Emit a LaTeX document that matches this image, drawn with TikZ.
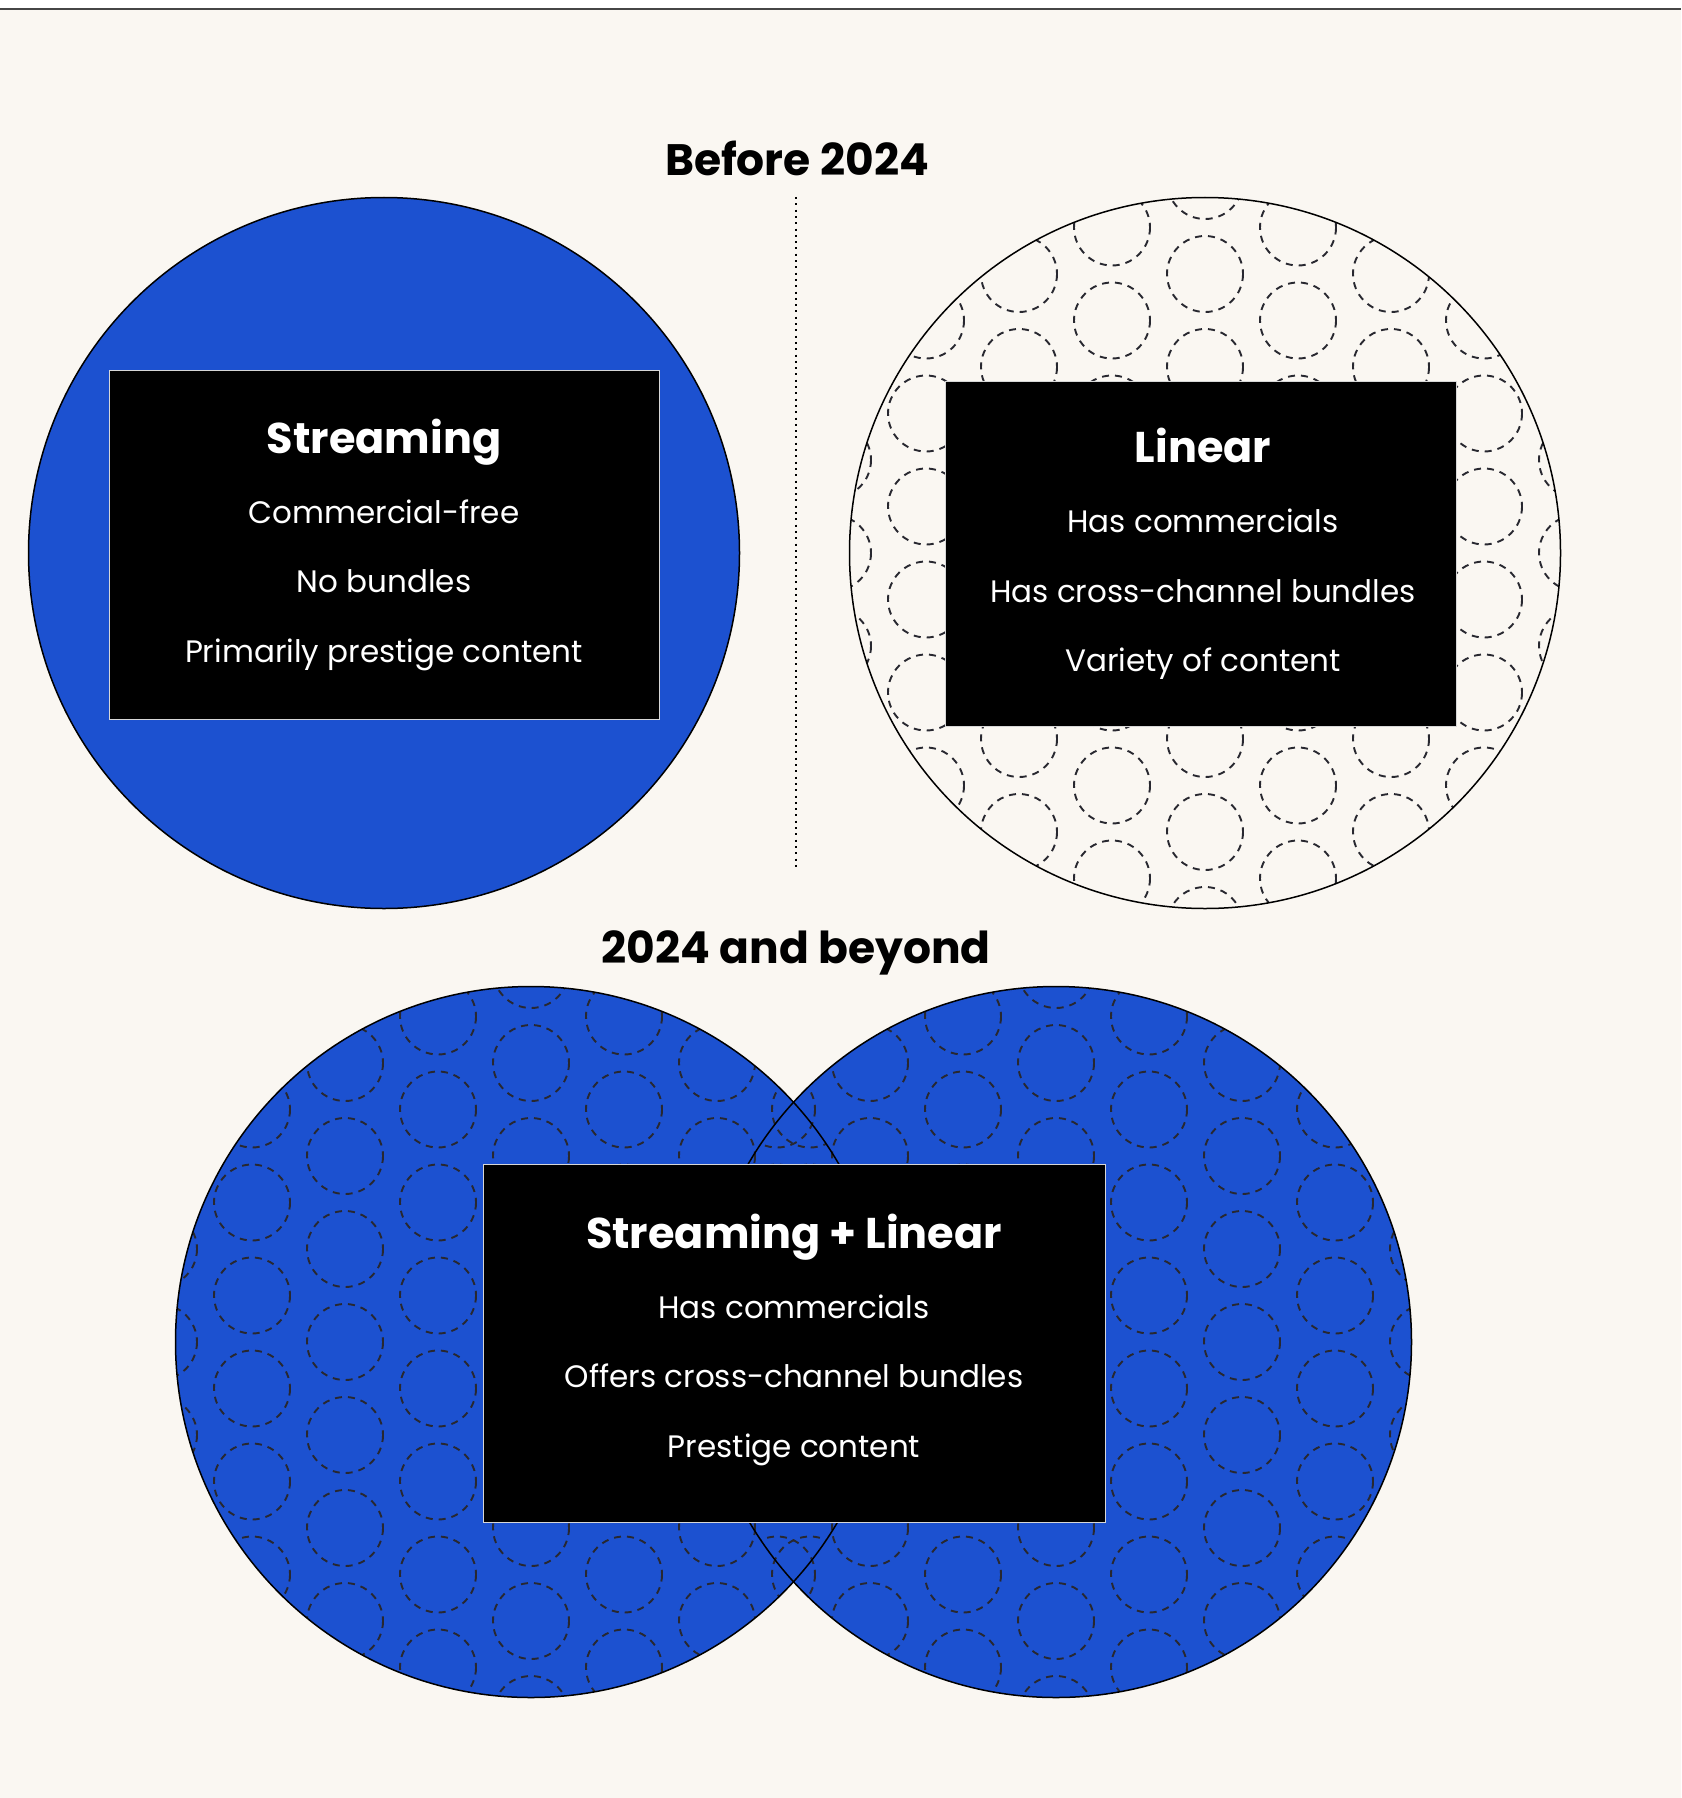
\documentclass[tikz,border=0pt]{standalone}
\usepackage{fontspec}
\setmainfont{Poppins}
\definecolor{paper}{RGB}{250,247,242}
\definecolor{vennblue}{RGB}{28,81,208}
\definecolor{ringgray}{RGB}{40,40,48}
\definecolor{boxedge}{RGB}{215,215,215}
\definecolor{rulegray}{RGB}{70,70,70}

% dashed rings laid out on a staggered grid around a centre point
\newcommand\ringgrid[2]{%
  \foreach \i in {-4,...,4}{%
    \foreach \j in {-5,...,4}{%
      \draw[dashring] ({#1+93*\i},{#2+93*\j+46.5*mod(abs(\i),2)}) circle[radius=38];
    }%
  }%
}

\begin{document}
\begin{tikzpicture}[x=1pt,y=-1pt,
  venn/.style={circle, draw=black, line width=1.5pt, minimum size=711pt, inner sep=0pt, outer sep=0pt},
  dashring/.style={draw=ringgray, line width=1.9pt, dash pattern=on 7pt off 6pt},
  infobox/.style={rectangle, fill=black, draw=boxedge, line width=1pt, inner sep=0pt},
  head/.style={text=white, anchor=mid, font=\bfseries\fontsize{43}{50}\selectfont},
  item/.style={text=white, anchor=mid, font=\fontsize{31}{36}\selectfont},
  title/.style={anchor=mid, font=\bfseries\fontsize{44}{50}\selectfont},
  divider/.style={line width=2pt, dash pattern=on 2pt off 4.3pt, draw=black}
]
\useasboundingbox (0,0) rectangle (1681,1798);
% page
\fill[paper] (0,0) rectangle (1681,1798);
\fill[white] (0,0) rectangle (1681,8);
\draw[rulegray, line width=2pt] (0,9) -- (1681,9);

% ---------- Before 2024 ----------
\node[title] (t1) at (797,173) {Before 2024};
\coordinate (dtop) at (796,197);
\coordinate (dbot) at (796,871);
\draw[divider] (dtop) -- (dbot);

% streaming circle
\node[venn, fill=vennblue] (cs) at (384,553) {};
% linear circle with ring pattern
\begin{scope}
  \clip (1205,553) circle[radius=355.5];
  \ringgrid{1205}{553}
\end{scope}
\node[venn] (cl) at (1205,553) {};

\node[infobox, minimum width=550pt, minimum height=349pt] (sbox) at (384,544.5) {};
\node[head] (sh) at (384,451) {Streaming};
\node[item] (s1) at (384,521) {Commercial-free};
\node[item] (s2) at (384,590) {No bundles};
\node[item] (s3) at (384,660) {Primarily prestige content};

\node[infobox, minimum width=511pt, minimum height=345pt] (lbox) at (1200.5,553.5) {};
\node[head] (lh) at (1203,460) {Linear};
\node[item] (l1) at (1203,530) {Has commercials};
\node[item] (l2) at (1203,600) {Has cross-channel bundles};
\node[item] (l3) at (1203,669) {Variety of content};

% ---------- 2024 and beyond ----------
\node[title] (t2) at (796,961) {2024 and beyond};

\fill[vennblue] (531,1342) circle[radius=355.5];
\fill[vennblue] (1056,1342) circle[radius=355.5];
\begin{scope}
  \clip (531,1342) circle[radius=355.5];
  \ringgrid{531}{1342}
\end{scope}
\begin{scope}
  \clip (1056,1342) circle[radius=355.5];
  \ringgrid{1056}{1342}
\end{scope}
\node[venn] (cbl) at (531,1342) {};
\node[venn] (cbr) at (1056,1342) {};

\node[infobox, minimum width=622pt, minimum height=358pt] (bbox) at (794,1343) {};
\node[head] (bh) at (794,1246) {Streaming + Linear};
\node[item] (b1) at (794,1316) {Has commercials};
\node[item] (b2) at (794,1385) {Offers cross-channel bundles};
\node[item] (b3) at (794,1455) {Prestige content};
\end{tikzpicture}
\end{document}
